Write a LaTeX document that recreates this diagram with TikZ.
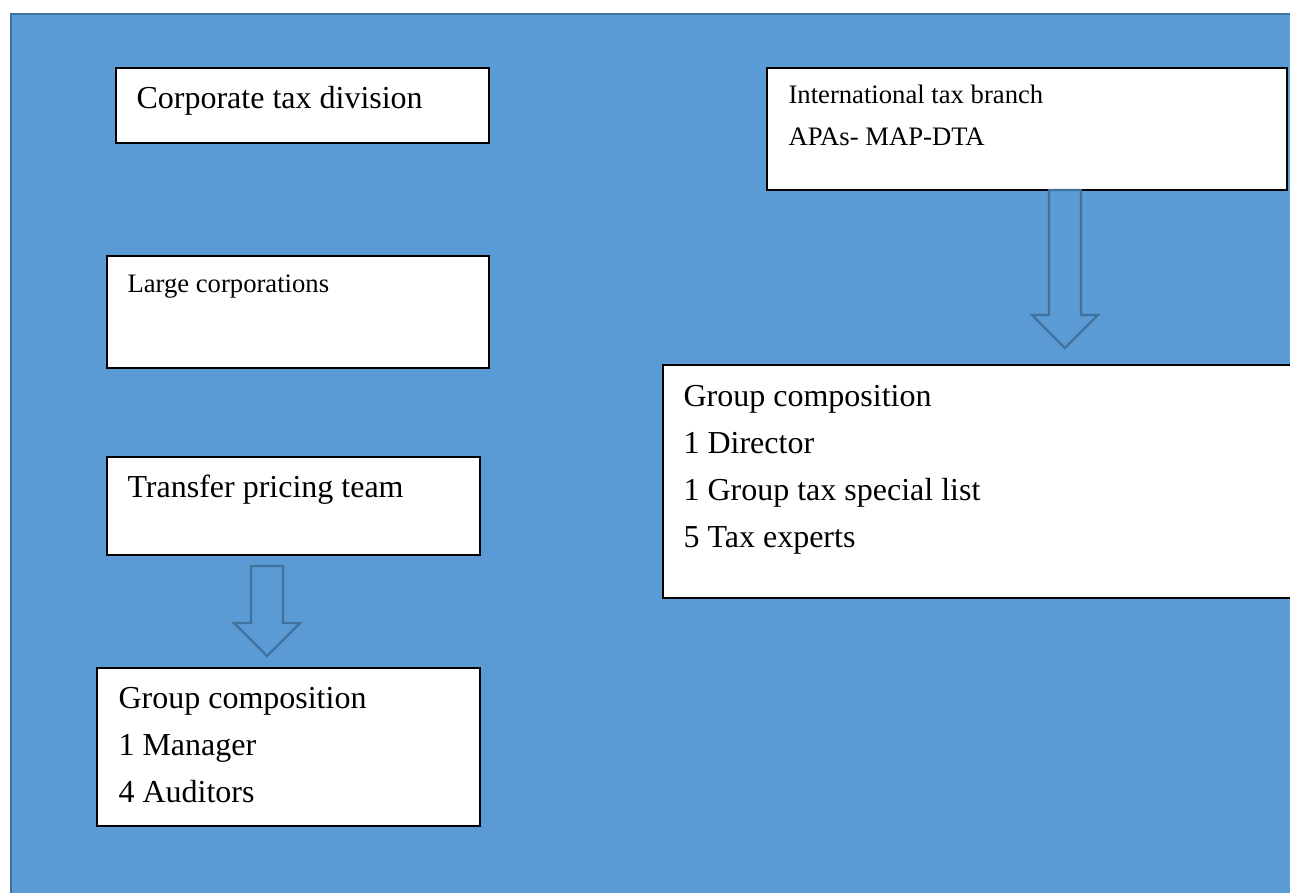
\documentclass[tikz,border=0pt]{standalone}
\usepackage{fontspec}
\setmainfont{Liberation Serif}
\definecolor{sheetblue}{HTML}{5B9BD5}
\definecolor{sheetedge}{HTML}{41719C}
\newcommand\pxu{0.375pt}
% hollow block arrow pointing down: x, top, tip
\newcommand\hollowdown[3]{%
  \draw[arrow line] (#1-16,#2) -- (#1+16,#2) -- (#1+16,#3-33) -- (#1+33,#3-33)
    -- (#1,#3) -- (#1-33,#3-33) -- (#1-16,#3-33) -- cycle;}

\begin{document}
\begin{tikzpicture}[x=\pxu,y=-\pxu,
  box/.style={draw=black,fill=white,line width=0.75pt,anchor=north west,inner sep=0pt,outer sep=0pt},
  big text/.style={anchor=base west,inner sep=0pt,align=left,font=\fontsize{12}{17.6}\selectfont},
  small text/.style={anchor=base west,inner sep=0pt,align=left,font=\fontsize{10}{15.75}\selectfont},
  arrow line/.style={draw=sheetedge,line width=0.9pt,line join=miter}]

  \clip (0,0) rectangle (1290,892);
  \fill[sheetblue] (11,14) rectangle (1300,900);
  \draw[sheetedge,line width=0.8pt] (1300,14) -- (11,14) -- (11,900);

  % left column
  \node[box,minimum width=373*\pxu,minimum height=75*\pxu] (corp) at (116,68) {};
  \node[box,minimum width=382*\pxu,minimum height=112*\pxu] (large) at (107,256) {};
  \node[box,minimum width=373*\pxu,minimum height=98*\pxu] (tp) at (107,457) {};
  \node[box,minimum width=383*\pxu,minimum height=158*\pxu] (grp1) at (97,668) {};

  % right column
  \node[box,minimum width=520*\pxu,minimum height=122*\pxu] (intl) at (767,68) {};
  \node[box,minimum width=700*\pxu,minimum height=233*\pxu] (grp2) at (663,365) {};

  % texts (base = last line)
  \node[big text] (corp-t) at (136,108) {Corporate tax division};
  \node[small text] (large-t) at (127,292) {Large corporations};
  \node[big text] (tp-t) at (127,497) {Transfer pricing team};
  \node[big text] (grp1-t) at (118,802) {Group composition\\1 Manager\\4 Auditors};
  \node[small text] (intl-t) at (788,145) {International tax branch\\APAs- MAP-DTA};
  \node[big text] (grp2-t) at (683,547) {Group composition\\1 Director\\1 Group tax special list\\5 Tax experts};

  %\draw (tp) -- (grp1);
  \hollowdown{267}{566}{656}
  \hollowdown{1065}{190}{348}
\end{tikzpicture}
\end{document}
